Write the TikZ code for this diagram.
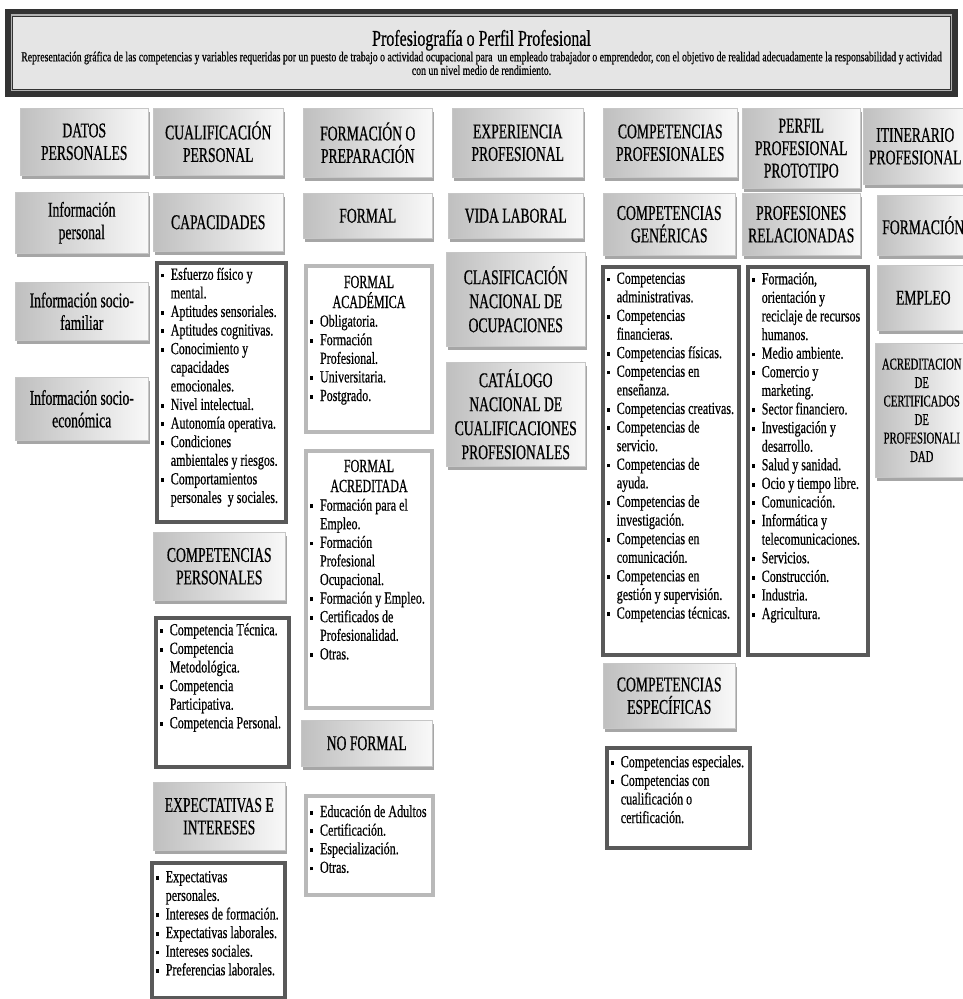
\documentclass[tikz,border=0pt]{standalone}
\usepackage{fontspec}
\setmainfont{Liberation Serif}[FakeStretch=0.71, FakeBold=0.5]
\newfontfamily\cabfam{Liberation Serif}[FakeStretch=0.65, FakeBold=0.6]
\usetikzlibrary{shadows}

\newcommand\cabfont{\cabfam\fontsize{21}{22.5}\selectfont}
\newcommand\lisfont{\fontsize{17}{18.6}\selectfont}
\newcommand\itm{\par\noindent\hangindent=10pt\hangafter=1\makebox[10pt][l]{\rule[.3ex]{2.8pt}{3.8pt}}\ignorespaces}
\newcommand\lst[2]{\begin{minipage}[t]{#1}\raggedright\lisfont #2\end{minipage}}

\tikzset{
  titulo/.style={fill=gray!20, draw=black!80, line width=.8pt,
    preaction={draw=black!80, line width=15pt},
    preaction={draw=gray!60, line width=3.4pt},
    align=center, inner sep=0pt},
  cab/.style={anchor=north west, align=center, font=\cabfont, inner sep=2pt,
    draw=gray!45, line width=.5pt, left color=gray!50, right color=gray!5,
    drop shadow={shadow xshift=1.5pt, shadow yshift=-3.5pt, fill=gray!70, opacity=1}},
  lista/.style={anchor=north west, fill=white, draw=black!65, line width=4.5pt,
    inner xsep=4pt, inner ysep=5pt},
  listaclara/.style={lista, draw=gray!55, line width=4pt}
}

\begin{document}
\begin{tikzpicture}[x=1pt, y=-1pt]
\useasboundingbox (0,0) rectangle (963,999);
\clip (0,0) rectangle (963,999);

% cabecera general
\node[titulo, minimum width=938pt, minimum height=73pt] (titulo) at (481.5,52.5)
  {{\fontsize{22.5}{23}\selectfont Profesiografía o Perfil Profesional}\\[0pt]
   {\fontsize{13.8}{13}\selectfont Representación gráfica de las competencias y variables requeridas por un puesto de trabajo o actividad ocupacional para\ \ un empleado trabajador o emprendedor, con el objetivo de realidad adecuadamente la responsabilidad y actividad}\\
   {\fontsize{13.8}{13}\selectfont con un nivel medio de rendimiento.}};

% fila de titulos
\node[cab, minimum width=128pt, minimum height=67pt] (datos) at (20,108) {DATOS\\PERSONALES};
\node[cab, minimum width=130pt, minimum height=67pt] (cualif) at (153,108) {CUALIFICACIÓN\\PERSONAL};
\node[cab, minimum width=129pt, minimum height=69pt] (formac) at (303,108) {FORMACIÓN O\\PREPARACIÓN};
\node[cab, minimum width=131pt, minimum height=69pt] (exper) at (452,108) {EXPERIENCIA\\PROFESIONAL};
\node[cab, minimum width=134pt, minimum height=69pt] (compprof) at (603,108) {COMPETENCIAS\\PROFESIONALES};
\node[cab, minimum width=118pt, minimum height=80pt] (perfil) at (742,108) {PERFIL\\PROFESIONAL\\PROTOTIPO};
\node[cab, minimum width=104pt, minimum height=76pt] (itin) at (863,108) {ITINERARIO\\PROFESIONAL};

% datos personales
\node[cab, minimum width=133pt, minimum height=61pt] (infoper) at (15,192) {Información\\personal};
\node[cab, minimum width=133pt, minimum height=58pt] (infofam) at (15,282) {Información socio-\\familiar};
\node[cab, minimum width=133pt, minimum height=63pt] (infoeco) at (15,377) {Información socio-\\económica};

% cualificacion personal
\node[cab, minimum width=130pt, minimum height=58pt] (capac) at (153,193) {CAPACIDADES};
\node[lista, text height=12pt, text depth=237pt] (caplist) at (154.5,260.5) {\lst{121pt}{%
  \itm Esfuerzo físico y\newline mental.
  \itm Aptitudes sensoriales.
  \itm Aptitudes cognitivas.
  \itm Conocimiento y\newline capacidades\newline emocionales.
  \itm Nivel intelectual.
  \itm Autonomía operativa.
  \itm Condiciones\newline ambientales y riesgos.
  \itm Comportamientos\newline personales\ \ y sociales.}};
\node[cab, minimum width=132pt, minimum height=68pt] (comppers) at (153,532) {COMPETENCIAS\\PERSONALES};
\node[lista, text height=12.5pt, text depth=126.5pt] (cplist) at (153.5,615.5) {\lst{125pt}{%
  \itm Competencia Técnica.
  \itm Competencia\newline Metodológica.
  \itm Competencia\newline Participativa.
  \itm Competencia Personal.}};
\node[cab, minimum width=132pt, minimum height=68pt] (expect) at (153,782) {EXPECTATIVAS E\\INTERESES};
\node[lista, text height=14.5pt, text depth=110.5pt] (explist) at (149.5,860.5) {\lst{125pt}{%
  \itm Expectativas\newline personales.
  \itm Intereses de formación.
  \itm Expectativas laborales.
  \itm Intereses sociales.
  \itm Preferencias laborales.}};

% formacion
\node[cab, minimum width=129pt, minimum height=45pt] (formal) at (303,193) {FORMAL};
\node[listaclara, text height=17pt, text depth=139pt] (academ) at (304,264) {\lst{118pt}{%
  {\centering\cabfam\fontsize{18.5}{20}\selectfont FORMAL\\ACADÉMICA\par}
  \itm Obligatoria.
  \itm Formación\newline Profesional.
  \itm Universitaria.
  \itm Postgrado.}};
\node[listaclara, text height=16pt, text depth=231pt] (acredit) at (304,449) {\lst{118pt}{%
  {\centering\cabfam\fontsize{18.5}{20}\selectfont FORMAL\\ACREDITADA\par}
  \itm Formación para el\newline Empleo.
  \itm Formación\newline Profesional\newline Ocupacional.
  \itm Formación y Empleo.
  \itm Certificados de\newline Profesionalidad.
  \itm Otras.}};
\node[cab, minimum width=131pt, minimum height=46pt] (noformal) at (301,720) {NO FORMAL};
\node[listaclara, text height=16pt, text depth=73pt] (nflist) at (304,794) {\lst{119pt}{%
  \itm Educación de Adultos
  \itm Certificación.
  \itm Especialización.
  \itm Otras.}};

% experiencia
\node[cab, minimum width=135pt, minimum height=45pt] (vida) at (448,193) {VIDA LABORAL};
\node[cab, minimum width=139pt, minimum height=94pt, font=\cabfam\fontsize{21}{24}\selectfont] (clasif) at (446,252) {CLASIFICACIÓN\\NACIONAL DE\\OCUPACIONES};
\node[cab, minimum width=139pt, minimum height=104pt, font=\cabfam\fontsize{21}{24}\selectfont] (catalogo) at (446,362) {CATÁLOGO\\NACIONAL DE\\CUALIFICACIONES\\PROFESIONALES};

% competencias
\node[cab, minimum width=132pt, minimum height=62pt] (compgen) at (603,193) {COMPETENCIAS\\GENÉRICAS};
\node[lista, text height=12pt, text depth=366pt] (cglist) at (600.5,264.5) {\lst{128pt}{%
  \itm Competencias\newline administrativas.
  \itm Competencias\newline financieras.
  \itm Competencias físicas.
  \itm Competencias en\newline enseñanza.
  \itm Competencias creativas.
  \itm Competencias de\newline servicio.
  \itm Competencias de\newline ayuda.
  \itm Competencias de\newline investigación.
  \itm Competencias en\newline comunicación.
  \itm Competencias en\newline gestión y supervisión.
  \itm Competencias técnicas.}};
\node[cab, minimum width=132pt, minimum height=65pt] (compesp) at (603,663) {COMPETENCIAS\\ESPECÍFICAS};
\node[lista, text height=14.5pt, text depth=75.5pt] (celist) at (604.5,745.5) {\lst{135pt}{%
  \itm Competencias especiales.
  \itm Competencias con\newline cualificación o\newline certificación.}};

% perfil
\node[cab, minimum width=118pt, minimum height=62pt] (profrel) at (742,193) {PROFESIONES\\RELACIONADAS};
\node[lista, text height=12.5pt, text depth=365.5pt] (prlist) at (745.5,264.5) {\lst{112pt}{%
  \itm Formación,\newline orientación y\newline reciclaje de recursos\newline humanos.
  \itm Medio ambiente.
  \itm Comercio y\newline marketing.
  \itm Sector financiero.
  \itm Investigación y\newline desarrollo.
  \itm Salud y sanidad.
  \itm Ocio y tiempo libre.
  \itm Comunicación.
  \itm Informática y\newline telecomunicaciones.
  \itm Servicios.
  \itm Construcción.
  \itm Industria.
  \itm Agricultura.}};

% itinerario
\node[cab, minimum width=92pt, minimum height=60pt] (formit) at (877,195) {FORMACIÓN};
\node[cab, minimum width=92pt, minimum height=65pt] (empleo) at (877,265) {EMPLEO};
\node[cab, minimum width=93pt, minimum height=134pt, font=\cabfam\fontsize{16.5}{18.5}\selectfont] (acred) at (875,343) {ACREDITACION\\DE\\CERTIFICADOS\\DE\\PROFESIONALI\\DAD};
\end{tikzpicture}
\end{document}
